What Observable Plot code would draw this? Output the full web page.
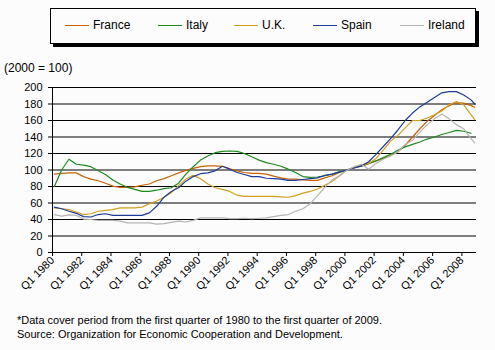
<!DOCTYPE html>
<html>
<head>
<meta charset="utf-8">
<script src="https://cdn.jsdelivr.net/npm/d3@7"></script>
<script src="https://cdn.jsdelivr.net/npm/@observablehq/plot@0.6"></script>
<style>
  html, body { margin: 0; padding: 0; background: #fcfcfc; }
  #wrap { position: relative; width: 495px; height: 350px; font-family: Arial, "Liberation Sans", sans-serif; color: #000; }
  #wrap svg { position: absolute; left: 0; top: 0; }
  .legend { position: absolute; left: 50px; top: 8px; width: 424px; height: 34px; border: 1px solid #000; box-shadow: 3px 3px 0 #000; background: #fcfcfc; }
  .item { position: absolute; top: 0; height: 34px; font-size: 12px; }
  .item span.sw { position: absolute; top: 16px; width: 24px; height: 0; border-top: 1.5px solid; }
  .item span.lb { position: absolute; top: 9px; white-space: nowrap; }
  .note { position: absolute; left: 17px; font-size: 11px; white-space: nowrap; }
</style>
</head>
<body>
<div id="wrap"></div>
<script>
// Series names and colours
const seriesNames = ["France", "Italy", "U.K.", "Spain", "Ireland"];
const seriesColors = ["#c8640a", "#1e8a1e", "#d2a01e", "#1e3c96", "#b4b4b4"];

// Periods (semi-annual samples, plus the last quarter)
const periods = [
  "1980Q1","1980Q3","1981Q1","1981Q3","1982Q1","1982Q3","1983Q1","1983Q3","1984Q1","1984Q3",
  "1985Q1","1985Q3","1986Q1","1986Q3","1987Q1","1987Q3","1988Q1","1988Q3","1989Q1","1989Q3",
  "1990Q1","1990Q3","1991Q1","1991Q3","1992Q1","1992Q3","1993Q1","1993Q3","1994Q1","1994Q3",
  "1995Q1","1995Q3","1996Q1","1996Q3","1997Q1","1997Q3","1998Q1","1998Q3","1999Q1","1999Q3",
  "2000Q1","2000Q3","2001Q1","2001Q3","2002Q1","2002Q3","2003Q1","2003Q3","2004Q1","2004Q3",
  "2005Q1","2005Q3","2006Q1","2006Q3","2007Q1","2007Q3","2008Q1","2008Q3","2008Q4"
];

const france = [
  95, 96, 96.5, 96.5, 92, 89, 87, 84, 80.5, 79,
  79, 79.5, 81.5, 83, 87, 89.5, 93, 96.5, 99.5, 102,
  104, 105, 105, 104.5, 101.5, 99, 97, 96, 96, 95,
  92.5, 90.5, 89, 89, 88, 87.5, 87.5, 90.5, 93, 97,
  100, 102.5, 104.5, 107.5, 111, 114, 117.5, 122, 130, 140,
  150, 159, 166, 173, 178, 181.5, 181, 178, 176
];
const italy = [
  80, 100, 113, 107, 106, 104, 99, 94.5, 88, 83,
  79, 76.5, 74, 74, 75.5, 77.5, 78.5, 84, 95, 104,
  112, 117, 121, 122.5, 123, 122.5, 120, 116, 112, 109,
  107, 104.5, 101, 97, 92, 91, 91.5, 93, 95, 98,
  100, 103, 105, 108, 111, 115, 119, 124, 128, 131,
  134, 137.5, 140, 143, 145.5, 148, 147, 144.5, null
];
const uk = [
  54, 53, 52, 49, 46, 47, 50, 51, 52, 54,
  54, 54, 55, 59, 62.5, 67, 72.5, 81, 89, 93.5,
  89.5, 83, 78.5, 76.5, 74, 69.5, 68, 68, 68, 68,
  68, 67.5, 67, 69, 72, 74, 77, 81.5, 86, 93,
  100, 103, 106, 108, 114, 124, 135, 142, 151, 160,
  160, 163, 167, 171.5, 179, 183, 179, 167, 161
];
const spain = [
  55, 53, 50, 47.5, 43.5, 43, 46, 47, 45, 45,
  45, 45, 45, 48, 56, 67, 74, 78.5, 86.5, 92,
  95.5, 96.5, 99, 104.5, 101, 97, 94.5, 92, 92, 90,
  89.5, 89, 87.5, 87.5, 88.5, 89.5, 90.5, 93.5, 95, 97.5,
  100, 102.5, 105, 110, 119, 128.5, 138, 148.5, 160, 169,
  176.5, 182, 188, 193.5, 195, 195, 191, 185, 180
];
const ireland = [
  46, 44, 45.5, 45, 40.5, 40, 39, 39, 39, 38,
  36, 36, 36, 36, 34.5, 35, 36.5, 38, 37, 39,
  42, 42, 42, 42, 41, 41, 41.5, 41, 41.5, 42,
  43.5, 45, 46, 50, 53, 59, 69, 79, 88, 93,
  99.5, 104, 107, 101, 108, 113, 117, 122, 131, 136,
  146, 155, 162, 168, 162, 155, 150, 138, 133
];

// X-axis tick labels (category boundaries every 8 quarters)
const tickLabels = ["Q1 1980","Q1 1982","Q1 1984","Q1 1986","Q1 1988","Q1 1990","Q1 1992","Q1 1994",
  "Q1 1996","Q1 1998","Q1 2000","Q1 2002","Q1 2004","Q1 2006","Q1 2008"];
const yTicks = [0, 20, 40, 60, 80, 100, 120, 140, 160, 180, 200];

// Build long table
const quarterIndex = p => (+p.slice(0, 4) - 1980) * 4 + (+p.slice(5) - 1) + 0.5;
const seriesValues = [france, italy, uk, spain, ireland];
const rows = [];
seriesNames.forEach((name, s) => {
  periods.forEach((p, i) => {
    const v = seriesValues[s][i];
    if (v != null) rows.push({series: name, q: quarterIndex(p), value: v});
  });
});
const tickPos = tickLabels.map(t => (+t.slice(3) - 1980) * 4);

const chart = Plot.plot({
  width: 495,
  height: 350,
  marginLeft: 52,
  marginRight: 19,
  marginTop: 87,
  marginBottom: 98,
  style: {background: "transparent", fontFamily: "Arial, 'Liberation Sans', sans-serif", fontSize: "11px", color: "#000", overflow: "visible"},
  x: {domain: [0, 116], label: null},
  y: {domain: [0, 200], label: null},
  color: {domain: seriesNames, range: seriesColors},
  marks: [
    Plot.ruleY(yTicks.filter(d => d > 0), {stroke: "#000", strokeWidth: 1}),
    Plot.line(rows, {x: "q", y: "value", z: "series", stroke: "series", strokeWidth: 1.2, curve: "linear"}),
    Plot.ruleX([0], {stroke: "#000"}),
    Plot.ruleY([0], {stroke: "#000"}),
    Plot.axisY({ticks: yTicks, tickSize: 4, tickPadding: 6, label: null, fontSize: 11}),
    Plot.axisX({ticks: tickPos, tickSize: 4, tickPadding: 2, tickRotate: -45,
      tickFormat: d => tickLabels[tickPos.indexOf(d)], label: null, fontSize: 11})
  ]
});

const wrap = document.getElementById("wrap");
wrap.appendChild(chart);

// Legend
const legend = document.createElement("div");
legend.className = "legend";
const legendX = [14, 107, 183, 262, 349];
seriesNames.forEach((name, i) => {
  const it = document.createElement("div");
  it.className = "item";
  it.style.left = legendX[i] + "px";
  it.innerHTML = `<span class="sw" style="border-color:${seriesColors[i]}"></span><span class="lb" style="left:28px">${name}</span>`;
  legend.appendChild(it);
});
wrap.appendChild(legend);

// Unit label
const unit = document.createElement("div");
unit.className = "note";
unit.style.left = "4px";
unit.style.top = "61px";
unit.style.fontSize = "12px";
unit.textContent = "(2000 = 100)";
wrap.appendChild(unit);

const n1 = document.createElement("div");
n1.className = "note";
n1.style.top = "314px";
n1.textContent = "*Data cover period from the first quarter of 1980 to the first quarter of 2009.";
wrap.appendChild(n1);
const n2 = document.createElement("div");
n2.className = "note";
n2.style.top = "328px";
n2.textContent = "Source: Organization for Economic Cooperation and Development.";
wrap.appendChild(n2);
</script>
</body>
</html>
